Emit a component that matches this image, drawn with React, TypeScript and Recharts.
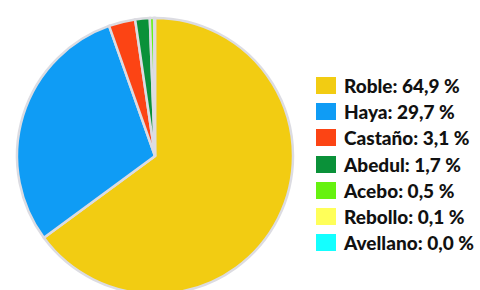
import React from "react";
import { PieChart, Pie, Cell, Legend } from "recharts";

// Species share of the forest area (%)
const species = ["Roble", "Haya", "Castaño", "Abedul", "Acebo", "Rebollo", "Avellano"];
const shares = [64.9, 29.7, 3.1, 1.7, 0.5, 0.1, 0.0];
const colors = ["#f2cc12", "#0f9cf5", "#fc4414", "#0a9139", "#66f20f", "#ffff59", "#14ffff"];

const data = species.map((name, i) => ({ name, value: shares[i] }));

const fmt = (v: number) => v.toFixed(1).replace(".", ",") + " %";

const LegendList = () => (
  <div>
    {data.map((d, i) => (
      <div
        key={d.name}
        style={{ display: "flex", alignItems: "center", height: 26.3 }}
      >
        <span
          style={{
            width: 20,
            height: 17,
            background: colors[i],
            display: "inline-block",
            marginRight: 8,
            flexShrink: 0,
          }}
        />
        <span
          style={{
            fontFamily: "Lato, sans-serif",
            fontWeight: 900,
            fontSize: 19,
            color: "#111",
            whiteSpace: "nowrap",
          }}
        >
          {d.name}: {fmt(d.value)}
        </span>
      </div>
    ))}
  </div>
);

const App: React.FC = () => {
  return (
    <div style={{ position: "absolute", left: 0, top: 0, width: 480, height: 290, background: "#fff" }}>
      <PieChart width={480} height={290}>
        <Pie
          data={data}
          dataKey="value"
          nameKey="name"
          cx={150}
          cy={151}
          outerRadius={138}
          startAngle={90}
          endAngle={-270}
          stroke="#dcdce2"
          strokeWidth={2.5}
          isAnimationActive={false}
        >
          {data.map((d, i) => (
            <Cell key={d.name} fill={colors[i]} />
          ))}
        </Pie>
        <Legend
          content={() => <LegendList />}
          wrapperStyle={{ position: "absolute", left: 316, top: 72, width: 164 }}
        />
      </PieChart>
    </div>
  );
};

export default App;
